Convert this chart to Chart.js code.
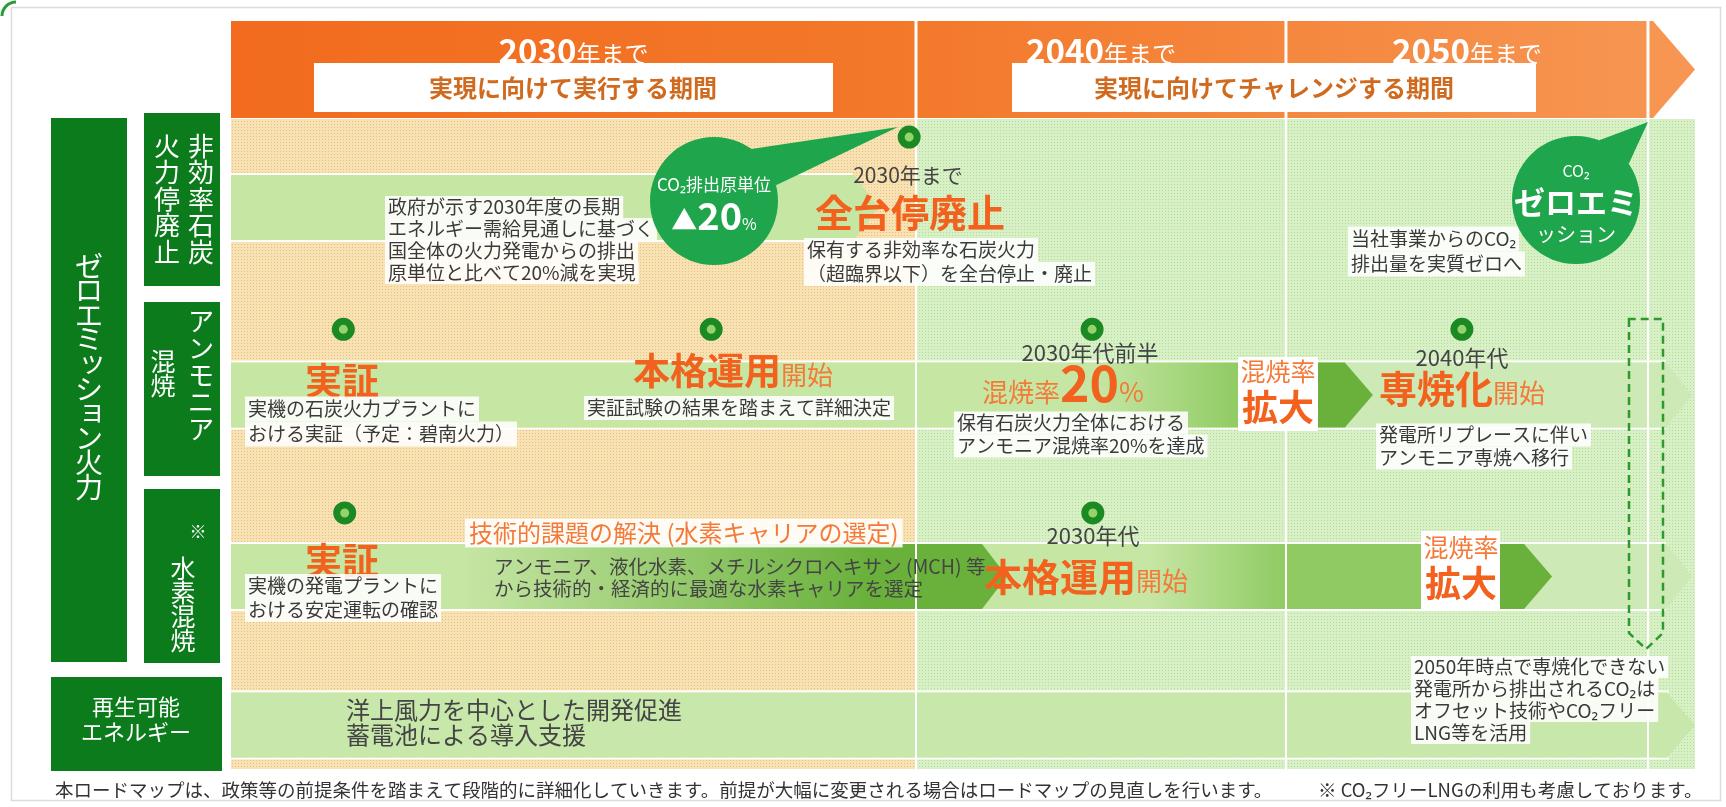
<!DOCTYPE html>
<html><head><meta charset="utf-8">
<script src="https://cdn.jsdelivr.net/npm/chart.js@4.4.1/dist/chart.umd.min.js"></script>
<style>html,body{margin:0;padding:0;background:#fff;overflow:hidden}#wrap{width:1726px;height:807px}</style>
</head><body><div id="wrap"><canvas id="c" width="1726" height="807"></canvas></div>
<script>
// ---------------- DATA ----------------
const rows = ['非効率石炭火力停廃止', 'アンモニア混焼', '水素混焼', '再生可能エネルギー'];
const periodEndYears = [2030, 2040, 2050];
const periodLabels = ['2030', '2040', '2050'];
const periodThemes = ['実現に向けて実行する期間', '実現に向けてチャレンジする期間'];

// roadmap band segments (row index, start year, end year, stage)
const bandRow   = [0, 1, 1, 1, 1, 2, 2, 2, 2, 2, 3];
const bandStart = [2020, 2020, 2030, 2040.83, 2040.83, 2031.78, 2020, 2040, 2045.88, 2045.88, 2020];
const bandEnd   = [2029.45, 2030, 2038.76, 2051.87, 2042.4, 2040, 2032.46, 2043.81, 2051.87, 2047.35, 2052];
const bandStage = ['retire', 'prepare', 'ramp', 'continue', 'expand', 'ramp', 'develop', 'scale', 'continue', 'expand', 'promote'];

// milestones (row index, year)
const milestoneRow  = [0, 1, 1, 1, 1, 2, 2];
const milestoneYear = [2029.9, 2021.64, 2027.01, 2034.76, 2044.86, 2021.66, 2034.78];

// ---------------- STYLE / LAYOUT ----------------
const MILESTONE_LIFT = 0.35;
const FONT = '"Noto Sans CJK JP", "Noto Sans", sans-serif';
const ORANGE = '#F2621E', ORANGE2 = '#F47A3A', TXT = '#3a3a3a';
const LIGHT = '#C6E6A4', MID = '#8FCB62', DARK = '#6AB13C', PALE = '#CDE9B5';
const STAGE_STYLE = {
  retire:   {fill: LIGHT, tip: 24},
  prepare:  {fill: LIGHT, tip: 0},
  ramp:     {grad: [[0, LIGHT], [0.55, LIGHT], [1, MID]], tip: 0},
  develop:  {grad: [[0, LIGHT], [0.3, LIGHT], [0.82, DARK], [1, DARK]], tip: 25},
  scale:    {fill: MID, tip: 0},
  expand:   {fill: DARK, tip: 28},
  continue: {fill: PALE, tip: 26},
  promote:  {fill: '#C8E7AA', tip: 28}
};

// piecewise-linear scale (roadmap periods are not drawn at equal width)
const BaseLinear = Chart.LinearScale || Chart.registry.getScale('linear');
class PiecewiseScale extends BaseLinear {
  getPixelForValue(value) {
    if (value === null || value === undefined || isNaN(value)) return NaN;
    const v = this.options.pieceValues, f = this.options.pieceFractions;
    let i = 0;
    while (i < v.length - 2 && value > v[i + 1]) i++;
    const t = (value - v[i]) / (v[i + 1] - v[i]);
    return this.getPixelForDecimal(f[i] + t * (f[i + 1] - f[i]));
  }
  getValueForPixel(pixel) {
    const d = this.getDecimalForPixel(pixel);
    const v = this.options.pieceValues, f = this.options.pieceFractions;
    let i = 0;
    while (i < f.length - 2 && d > f[i + 1]) i++;
    const t = (d - f[i]) / (f[i + 1] - f[i]);
    return v[i] + t * (v[i + 1] - v[i]);
  }
}
PiecewiseScale.id = 'piecewise';
Chart.register(PiecewiseScale);

// ---------------- helpers ----------------
function setFont(ctx, size, weight) { ctx.font = (weight || 'normal') + ' ' + size + 'px ' + FONT; }
function text(ctx, s, x, y, o) {
  o = o || {};
  const size = o.size || 19;
  setFont(ctx, size, o.weight);
  ctx.textAlign = o.align || 'left';
  ctx.textBaseline = 'middle';
  if (o.bg) {
    const w = ctx.measureText(s).width;
    const lx = o.align === 'center' ? x - w / 2 : x;
    const p = o.pad == null ? 3 : o.pad;
    ctx.fillStyle = o.bg;
    ctx.fillRect(lx - p, y - (o.lh || size * 1.2) / 2, w + 2 * p, (o.lh || size * 1.2));
  }
  ctx.fillStyle = o.color || TXT;
  ctx.fillText(s, x, y);
}
function lines(ctx, arr, x, y, lh, o) {
  o = Object.assign({lh: lh}, o || {});
  if (o.bg) { arr.forEach((s, i) => text(ctx, s, x, y + i * lh, Object.assign({}, o, {color: 'rgba(0,0,0,0)'}))); }
  arr.forEach((s, i) => text(ctx, s, x, y + i * lh, Object.assign({}, o, {bg: null})));
}
function rich(ctx, runs, x, baseline, align) {
  let total = 0;
  runs.forEach(r => { setFont(ctx, r[1], r[2]); r.w = ctx.measureText(r[0]).width; total += r.w; });
  let cx = align === 'center' ? x - total / 2 : x;
  ctx.textAlign = 'left'; ctx.textBaseline = 'alphabetic';
  runs.forEach(r => { setFont(ctx, r[1], r[2]); ctx.fillStyle = r[3]; ctx.fillText(r[0], cx, baseline); cx += r.w; });
}
function vtext(ctx, s, cx, y0, pitch, size, color) {
  setFont(ctx, size); ctx.textAlign = 'center'; ctx.textBaseline = 'middle'; ctx.fillStyle = color;
  [...s].forEach((ch, i) => {
    let dx = 0, dy = 0;
    if ('ッョャュァィゥェォ'.includes(ch)) { dx = size * 0.12; dy = -size * 0.1; }
    ctx.fillText(ch, cx + dx, y0 + i * pitch + dy);
  });
}
function dotPattern(ctx, base, dot) {
  const c = document.createElement('canvas'); c.width = 3; c.height = 3;
  const g = c.getContext('2d'); g.fillStyle = base; g.fillRect(0, 0, 3, 3);
  g.fillStyle = dot; g.fillRect(1, 1, 1, 1);
  return ctx.createPattern(c, 'repeat');
}
function bandPath(ctx, x0, x1, yc, h, tip) {
  const top = yc - h / 2, bot = yc + h / 2;
  ctx.beginPath(); ctx.moveTo(x0, top);
  if (tip > 0) { ctx.lineTo(x1 - tip, top); ctx.lineTo(x1, yc); ctx.lineTo(x1 - tip, bot); }
  else { ctx.lineTo(x1, top); ctx.lineTo(x1, bot); }
  ctx.lineTo(x0, bot); ctx.closePath();
}
function bubble(ctx, cx, cy, r, tip, a1, a2, color) {
  ctx.fillStyle = color;
  ctx.beginPath(); ctx.arc(cx, cy, r, 0, Math.PI * 2); ctx.fill();
  ctx.beginPath();
  ctx.moveTo(cx + r * Math.cos(a1), cy + r * Math.sin(a1));
  ctx.lineTo(tip[0], tip[1]);
  ctx.lineTo(cx + r * Math.cos(a2), cy + r * Math.sin(a2));
  ctx.closePath(); ctx.fill();
}

// ---------------- plugin ----------------
const roadmap = {
  id: 'roadmap',
  beforeDraw(chart) {
    const ctx = chart.ctx;
    ctx.save();
    ctx.fillStyle = '#fff'; ctx.fillRect(0, 0, chart.width, chart.height);
    ctx.strokeStyle = '#dcdcdc'; ctx.lineWidth = 1.5; ctx.strokeRect(11.5, 7.5, 1709, 793);
    ctx.strokeStyle = '#2E9B3A'; ctx.lineWidth = 3;
    ctx.beginPath(); ctx.arc(16, 16, 14, Math.PI, Math.PI * 1.5); ctx.stroke();
    ctx.restore();
  },
  beforeDatasetsDraw(chart) {
    const ctx = chart.ctx, xs = chart.scales.x, a = chart.chartArea;
    ctx.save();
    const x0 = xs.getPixelForValue(2020), x30 = xs.getPixelForValue(periodEndYears[0]);
    const bottom = a.bottom - 2;
    ctx.fillStyle = dotPattern(ctx, '#F8E1B2', '#E4C07F');
    ctx.fillRect(x0, a.top, x30 - x0, bottom - a.top);
    ctx.fillStyle = dotPattern(ctx, '#D8F0C6', '#B5DC99');
    ctx.fillRect(x30, a.top, a.right - x30, bottom - a.top);

    const meta = chart.getDatasetMeta(0);
    // white guide lines at band edges
    ctx.fillStyle = '#fff';
    [0, 1, 2, 3].forEach(r => {
      const els = meta.data.filter((e, i) => bandRow[i] === r);
      const y = els[0].y, h = els[0].height;
      let xmax = Math.max(...els.map(e => Math.max(e.x, e.base)));
      const xmin = Math.min(...els.map(e => Math.min(e.x, e.base)));
      xmax -= 26;
      ctx.fillRect(xmin, y - h / 2 - 2, xmax - xmin, 2);
      ctx.fillRect(xmin, y + h / 2, xmax - xmin, 2);
    });
    meta.data.forEach((el, i) => {
      const st = STAGE_STYLE[bandStage[i]];
      const s = Math.min(el.base, el.x), e = Math.max(el.base, el.x);
      if (st.grad) {
        const g = ctx.createLinearGradient(s, 0, e, 0);
        st.grad.forEach(p => g.addColorStop(p[0], p[1]));
        ctx.fillStyle = g;
      } else ctx.fillStyle = st.fill;
      bandPath(ctx, s, e, el.y, el.height, st.tip);
      ctx.fill();
    });
    // period dividers
    ctx.fillStyle = '#fff';
    periodEndYears.forEach(yr => { const x = xs.getPixelForValue(yr); ctx.fillRect(x - 1, a.top, 2, bottom - a.top); });
    ctx.restore();
  },
  afterDatasetsDraw(chart) {
    const ctx = chart.ctx, xs = chart.scales.x;
    ctx.save();
    // ---- header ----
    const top = 21, bot = 118, left = xs.getPixelForValue(2020), tipX = chart.chartArea.right, rectEnd = tipX - 42;
    const g = ctx.createLinearGradient(left, 0, tipX, 0);
    g.addColorStop(0, '#F26B1E'); g.addColorStop(0.45, '#F3782A'); g.addColorStop(1, '#F79753');
    ctx.fillStyle = g;
    ctx.beginPath(); ctx.moveTo(left, top); ctx.lineTo(rectEnd, top); ctx.lineTo(tipX, (top + bot) / 2);
    ctx.lineTo(rectEnd, bot); ctx.lineTo(left, bot); ctx.closePath(); ctx.fill();
    ctx.fillStyle = '#fff';
    const px = periodEndYears.map(y => xs.getPixelForValue(y));
    px.forEach(x => ctx.fillRect(x - 1.5, top, 3, bot - top));
    const edges = [left].concat(px);
    periodLabels.forEach((lb, i) => {
      const cx = (edges[i] + edges[i + 1]) / 2;
      rich(ctx, [[lb, 33, 'bold', '#fff'], ['年まで', 24, 'normal', '#fff']], cx, 63, 'center');
    });
    ctx.fillStyle = '#fff';
    ctx.fillRect(314, 63, 519, 49);
    ctx.fillRect(1012, 63, 524, 49);
    text(ctx, periodThemes[0], 573, 88, {size: 24, weight: 'bold', color: '#CF6A1E', align: 'center'});
    text(ctx, periodThemes[1], 1274, 88, {size: 24, weight: 'bold', color: '#CF6A1E', align: 'center'});

    // ---- left labels ----
    const GREEN = '#0B7B1B';
    ctx.fillStyle = GREEN;
    ctx.fillRect(51, 118, 76, 544);
    ctx.fillRect(144, 113, 76, 173);
    ctx.fillRect(144, 302, 76, 174);
    ctx.fillRect(144, 489, 76, 174);
    ctx.fillRect(51, 677, 171, 94);
    vtext(ctx, 'ゼロエミッション火力', 89, 266, 24.6, 28, '#fff');
    vtext(ctx, '非効率石炭', 201, 146, 26.5, 26, '#fff');
    vtext(ctx, '火力停廃止', 167, 146, 26.5, 26, '#fff');
    vtext(ctx, 'アンモニア', 201, 321, 27, 26, '#fff');
    vtext(ctx, '混焼', 163, 361, 24, 25, '#fff');
    text(ctx, '※', 198, 532, {size: 17, color: '#fff', align: 'center'});
    vtext(ctx, '水素混焼', 183, 568, 24, 25, '#fff');
    text(ctx, '再生可能', 136, 707, {size: 22, color: '#fff', align: 'center'});
    text(ctx, 'エネルギー', 136, 732, {size: 22, color: '#fff', align: 'center'});

    const WB = 'rgba(255,255,255,0.88)';
    // ---- row 1 ----
    lines(ctx, ['政府が示す2030年度の長期', 'エネルギー需給見通しに基づく', '国全体の火力発電からの排出', '原単位と比べて20%減を実現'], 388, 207, 22, {bg: WB});
    bubble(ctx, 714, 201, 64, [898, 127], -0.95, -0.25, '#1FA54B');
    text(ctx, 'CO₂排出原単位', 714, 185, {size: 17, color: '#fff', align: 'center'});
    rich(ctx, [['▲', 26, 'normal', '#fff'], ['20', 38, 'bold', '#fff'], ['%', 16, 'normal', '#fff']], 714, 230, 'center');
    text(ctx, '2030年まで', 908, 175, {size: 21, color: '#444', align: 'center'});
    text(ctx, '全台停廃止', 910, 213, {size: 38, weight: 'bold', color: ORANGE, align: 'center'});
    lines(ctx, ['保有する非効率な石炭火力', '（超臨界以下）を全台停止・廃止'], 807, 250, 24, {bg: WB});
    lines(ctx, ['当社事業からのCO₂', '排出量を実質ゼロへ'], 1351, 239, 25, {bg: WB});
    bubble(ctx, 1576, 200, 64, [1648, 122], -1.2, -0.6, '#1FA54B');
    text(ctx, 'CO₂', 1576, 171, {size: 16, color: '#fff', align: 'center'});
    text(ctx, 'ゼロエミ', 1576, 202, {size: 31, weight: 'bold', color: '#fff', align: 'center'});
    text(ctx, 'ッション', 1576, 234, {size: 20, color: '#fff', align: 'center'});

    // ---- row 2 ----
    text(ctx, '実証', 342, 381, {size: 37, weight: 'bold', color: ORANGE, align: 'center'});
    lines(ctx, ['実機の石炭火力プラントに', 'おける実証（予定：碧南火力）'], 248, 409, 25, {bg: WB});
    rich(ctx, [['本格運用', 37, 'bold', ORANGE], ['開始', 26, 'normal', ORANGE2]], 633, 385);
    lines(ctx, ['実証試験の結果を踏まえて詳細決定'], 587, 408, 24, {bg: WB});
    text(ctx, '2030年代前半', 1090, 353, {size: 22, color: '#444', align: 'center'});
    rich(ctx, [['混焼率', 26, 'normal', ORANGE2], ['20', 50, 'bold', ORANGE], ['%', 27, 'normal', ORANGE2]], 982, 402);
    lines(ctx, ['保有石炭火力全体における', 'アンモニア混焼率20%を達成'], 957, 423, 23, {bg: WB});
    ctx.fillStyle = '#fff'; ctx.fillRect(1238, 357, 80, 74);
    text(ctx, '混焼率', 1278, 371, {size: 25, color: ORANGE2, align: 'center'});
    text(ctx, '拡大', 1278, 407, {size: 36, weight: 'bold', color: ORANGE, align: 'center'});
    text(ctx, '2040年代', 1462, 358, {size: 22, color: '#444', align: 'center'});
    rich(ctx, [['専焼化', 38, 'bold', ORANGE], ['開始', 26, 'normal', ORANGE2]], 1379, 403);
    lines(ctx, ['発電所リプレースに伴い', 'アンモニア専焼へ移行'], 1379, 435, 23, {bg: WB});

    // ---- row 3 ----
    text(ctx, '実証', 342, 561, {size: 37, weight: 'bold', color: ORANGE, align: 'center'});
    lines(ctx, ['実機の発電プラントに', 'おける安定運転の確認'], 248, 586, 24, {bg: WB});
    text(ctx, '技術的課題の解決 (水素キャリアの選定)', 469, 533, {size: 24, color: ORANGE2, bg: WB, pad: 4});
    lines(ctx, ['アンモニア、液化水素、メチルシクロヘキサン (MCH) 等', 'から技術的・経済的に最適な水素キャリアを選定'], 494, 567, 22, {size: 19.5, color: '#444'});
    text(ctx, '2030年代', 1093, 536, {size: 22, color: '#444', align: 'center'});
    rich(ctx, [['本格運用', 38, 'bold', ORANGE], ['開始', 26, 'normal', ORANGE2]], 984, 591);
    ctx.fillStyle = '#fff'; ctx.fillRect(1421, 531, 79, 80);
    text(ctx, '混焼率', 1461, 547, {size: 25, color: ORANGE2, align: 'center'});
    text(ctx, '拡大', 1461, 583, {size: 36, weight: 'bold', color: ORANGE, align: 'center'});

    // dashed transition box
    ctx.save();
    ctx.strokeStyle = '#2E9A2E'; ctx.lineWidth = 2.5; ctx.setLineDash([8, 5]);
    ctx.beginPath(); ctx.moveTo(1629, 319); ctx.lineTo(1629, 633); ctx.lineTo(1646, 649); ctx.lineTo(1663, 633); ctx.lineTo(1663, 319); ctx.closePath(); ctx.stroke();
    ctx.restore();

    // ---- row 4 ----
    lines(ctx, ['洋上風力を中心とした開発促進', '蓄電池による導入支援'], 346, 710, 25, {size: 24, color: '#444'});
    lines(ctx, ['2050年時点で専焼化できない', '発電所から排出されるCO₂は', 'オフセット技術やCO₂フリー', 'LNG等を活用'], 1414, 667, 22, {bg: WB});

    // ---- footer ----
    text(ctx, '本ロードマップは、政策等の前提条件を踏まえて段階的に詳細化していきます。前提が大幅に変更される場合はロードマップの見直しを行います。', 55, 790, {size: 18.5, color: '#333'});
    text(ctx, '※ CO₂フリーLNGの利用も考慮しております。', 1318, 790, {size: 18.5, color: '#333'});
    ctx.restore();
  }
};

// ---------------- chart ----------------
new Chart(document.getElementById('c').getContext('2d'), {
  type: 'bar',
  data: {
    datasets: [
      {
        type: 'bar', label: 'ロードマップ', indexAxis: 'y', grouped: false, order: 2,
        data: bandRow.map((r, i) => ({x: [bandStart[i], bandEnd[i]], y: r})),
        backgroundColor: 'rgba(0,0,0,0)', borderWidth: 0, barThickness: 65
      },
      {
        type: 'scatter', label: 'マイルストーン', order: 1,
        data: milestoneRow.map((r, i) => ({x: milestoneYear[i], y: r - MILESTONE_LIFT})),
        pointRadius: 8, pointBorderWidth: 7, pointBackgroundColor: '#95D46B', pointBorderColor: '#1B8A22'
      }
    ]
  },
  options: {
    responsive: false, animation: false, devicePixelRatio: 1, events: [],
    layout: {padding: {left: 231, right: 31, top: 119, bottom: 36}},
    plugins: {legend: {display: false}, tooltip: {enabled: false}, title: {display: false}},
    scales: {
      x: {type: 'piecewise', display: false, min: 2020, max: 2052,
          pieceValues: [2020, 2030, 2040, 2050, 2052], pieceFractions: [0, 0.4679, 0.7206, 0.9679, 1]},
      y: {type: 'piecewise', display: false, reverse: true, min: -0.44, max: 3.5,
          pieceValues: [-0.44, 0, 1, 2, 3, 3.5], pieceFractions: [0, 0.1357, 0.4233, 0.7017, 0.9294, 1]}
    }
  },
  plugins: [roadmap]
});
</script>
</body></html>
